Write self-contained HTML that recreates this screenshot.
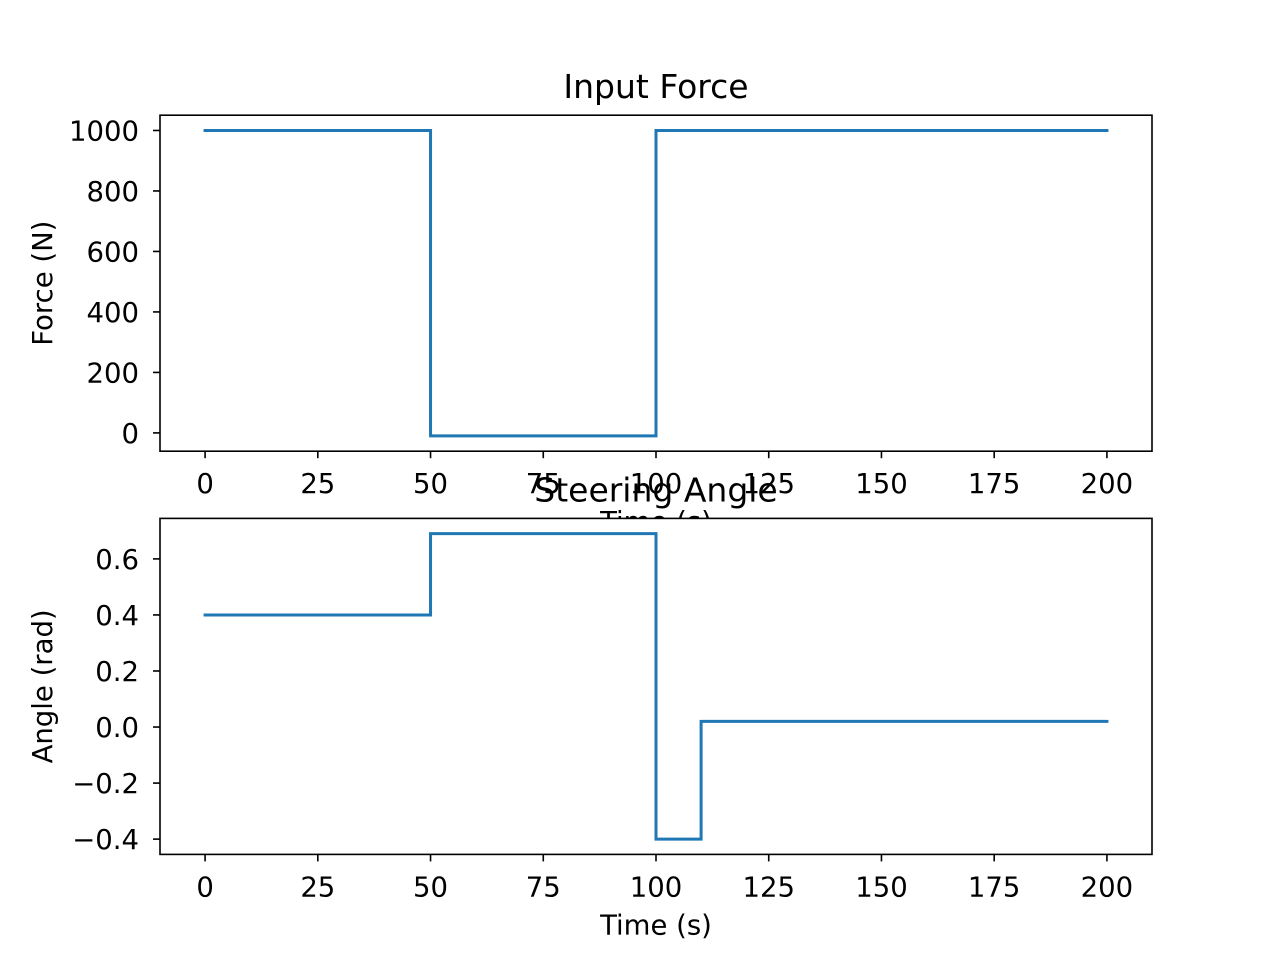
<!DOCTYPE html>
<html><head><meta charset="utf-8"><style>
body{margin:0;background:#fff}
svg text{font-family:"DejaVu Sans","Liberation Sans",sans-serif;fill:#000}
</style></head><body>
<svg id="fig" width="1280" height="960" xmlns="http://www.w3.org/2000/svg"></svg>
<script>
const xTicks=[0,25,50,75,100,125,150,175,200];
const forceT=[0,50,50,100,100,200];
const forceV=[1000,1000,-10,-10,1000,1000];
const forceTicks=[0,200,400,600,800,1000];
const angleT=[0,50,50,100,100,110,110,200];
const angleV=[0.4,0.4,0.69,0.69,-0.4,-0.4,0.02,0.02];
const angleTicks=[-0.4,-0.2,0.0,0.2,0.4,0.6];
const angleTickLabels=["\u22120.4","\u22120.2","0.0","0.2","0.4","0.6"];

const NS="http://www.w3.org/2000/svg";
const svg=document.getElementById('fig');
function el(tag,attrs,parent){const e=document.createElementNS(NS,tag);for(const k in attrs)e.setAttribute(k,attrs[k]);(parent||svg).appendChild(e);return e;}
const L=160,R=1152;
const FS=27.5;
function xs(v){return L+(v+10)/220*(R-L);}
function panel(name,top,bot,ymin,ymax,T,V,yt,ytl,title,ylab){
  const g=el('g',{});
  
  
  const ys=v=>bot-(v-ymin)/(ymax-ymin)*(bot-top);
  const bg=el('rect',{x:L,y:top,width:R-L,height:bot-top,fill:'#fff'},g);
  
  
  const t=el('text',{x:(L+R)/2,y:top-17,'text-anchor':'middle','font-size':33},g);
  t.textContent=title;
  
  
  const line=el('polyline',{points:T.map((x,i)=>xs(x)+','+ys(V[i])).join(' '),fill:'none',stroke:'#1f77b4','stroke-width':3,'stroke-linejoin':'miter','stroke-linecap':'square'},g);
  
  
  el('rect',{x:L,y:top,width:R-L,height:bot-top,fill:'none',stroke:'#000','stroke-width':1.6},g);
  xTicks.forEach(v=>{
    el('line',{x1:xs(v),x2:xs(v),y1:bot,y2:bot+7,stroke:'#000','stroke-width':1.6},g);
    const tx=el('text',{x:xs(v),y:bot+42,'text-anchor':'middle','font-size':FS},g);
    tx.textContent=v;
    
    
  });
  yt.forEach((v,i)=>{
    el('line',{x1:L-7,x2:L,y1:ys(v),y2:ys(v),stroke:'#000','stroke-width':1.6},g);
    const ty=el('text',{x:L-21,y:ys(v)+10,'text-anchor':'end','font-size':FS},g);
    ty.textContent=ytl[i];
    
    
  });
  const xl=el('text',{x:(L+R)/2,y:bot+80,'text-anchor':'middle','font-size':FS},g);
  xl.textContent='Time (s)';
  
  
  const cy=(top+bot)/2;
  const yl=el('text',{x:52,y:cy,'text-anchor':'middle','font-size':FS,transform:'rotate(-90 52 '+cy+')'},g);
  yl.textContent=ylab;
  
  
  return g;
}
panel('force-panel',115.2,451.2,-60.5,1050.5,forceT,forceV,forceTicks,forceTicks.map(String),'Input Force','Force (N)');
panel('angle-panel',518.4,854.4,-0.4545,0.7445,angleT,angleV,angleTicks,angleTickLabels,'Steering Angle','Angle (rad)');
</script>
</body></html>
